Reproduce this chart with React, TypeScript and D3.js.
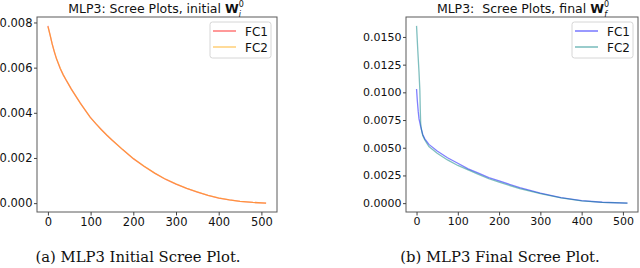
import * as d3 from 'd3';
import React, { useEffect, useRef } from 'react';

// x ticks shared by both panels
const xTicks = [0, 100, 200, 300, 400, 500];

// (a) initial weights: FC1 and FC2 sit on top of each other
const initIdx = [0, 5, 10, 15, 20, 29, 36, 44, 55, 66, 76, 88, 99, 112, 125, 138, 150, 175, 200, 225, 250, 275, 300, 325, 350, 375, 400, 425, 450, 480, 511];
const initFc1 = [0.00785, 0.00745, 0.00705, 0.0067, 0.0064, 0.00595, 0.00568, 0.0054, 0.00505, 0.00472, 0.00443, 0.0041, 0.00381, 0.00352, 0.00326, 0.00301, 0.0028, 0.00237, 0.00197, 0.00163, 0.00133, 0.00106, 0.00084, 0.00065, 0.00049, 0.00034, 0.00022, 0.00014, 0.00008, 0.00003, 0.0];
const initFc2 = [0.00782, 0.00746, 0.00704, 0.00672, 0.0064, 0.00597, 0.00567, 0.00542, 0.00504, 0.00473, 0.00442, 0.00411, 0.0038, 0.00353, 0.00325, 0.00302, 0.0028, 0.00238, 0.00198, 0.00164, 0.00133, 0.00107, 0.00085, 0.00065, 0.0005, 0.00034, 0.00023, 0.00014, 0.00008, 0.00003, 0.0];
const initYTicks = [0, 0.002, 0.004, 0.006, 0.008];

// (b) final weights
const finalIdx1 = [0, 2, 4, 6, 10, 15, 20, 30, 50, 75, 100, 125, 150, 175, 200, 250, 300, 350, 400, 450, 511];
const finalFc1 = [0.0103, 0.0092, 0.0083, 0.0076, 0.0069, 0.0062, 0.0058, 0.0053, 0.0047, 0.0041, 0.0036, 0.0031, 0.0027, 0.0023, 0.002, 0.0014, 0.0009, 0.0005, 0.00022, 0.00008, 0.0];
const finalIdx2 = [0, 3, 6, 8, 9, 10, 12, 15, 20, 30, 50, 75, 100, 125, 150, 175, 200, 250, 300, 350, 400, 450, 511];
const finalFc2 = [0.016, 0.0138, 0.0118, 0.0102, 0.0085, 0.0072, 0.0066, 0.0061, 0.0057, 0.0051, 0.0045, 0.0039, 0.0034, 0.003, 0.0026, 0.0022, 0.0019, 0.0013, 0.00085, 0.00048, 0.0002, 0.00007, 0.0];
const finalYTicks = [0, 0.0025, 0.005, 0.0075, 0.01, 0.0125, 0.015];

interface Series {
    idx: number[];
    vals: number[];
    color: string;
    name: string;
}

interface PanelProps {
    left: number;
    right: number;
    yTicks: number[];
    fmt: string;
    fontSize: number;
    series: Series[];
    legendX: number;
    title: string;
    sub: string;
    titleX: number;
}

const top = 17;
const bottom = 212;

const Panel = ({ left, right, yTicks, fmt, fontSize, series, legendX, title, sub, titleX }: PanelProps) => {
    const ref = useRef<SVGGElement>(null);

    useEffect(() => {
        const g = d3.select(ref.current);
        g.selectAll('*').remove();

        const allY = series.flatMap((s) => s.vals);
        const [ymin, ymax] = d3.extent(allY) as [number, number];
        const ypad = (ymax - ymin) * 0.05;
        const y = d3.scaleLinear().domain([ymin - ypad, ymax + ypad]).range([bottom, top]);
        const xpad = 511 * 0.05;
        const x = d3.scaleLinear().domain([-xpad, 511 + xpad]).range([left, right]);

        // lines, drawn in order so the later one sits on top
        series.forEach((s) => {
            const gen = d3
                .line<number>()
                .x((d) => x(d))
                .y((d, i) => y(s.vals[i]));
            g.append('path')
                .attr('d', gen(s.idx))
                .attr('fill', 'none')
                .attr('stroke', s.color)
                .attr('stroke-opacity', 0.5)
                .attr('stroke-width', 1.3);
        });

        // frame
        g.append('rect')
            .attr('x', left)
            .attr('y', top)
            .attr('width', right - left)
            .attr('height', bottom - top)
            .attr('fill', 'none')
            .attr('stroke', '#5a5a5a')
            .attr('stroke-width', 1);

        const xAxis = d3.axisBottom(x).tickValues(xTicks).tickSize(3.5).tickPadding(2);
        const xg = g.append('g').attr('transform', `translate(0,${bottom})`).call(xAxis);
        const yAxis = d3.axisLeft(y).tickValues(yTicks).tickFormat(d3.format(fmt)).tickSize(3).tickPadding(1.5);
        const yg = g.append('g').attr('transform', `translate(${left},0)`).call(yAxis);
        [xg, yg].forEach((a) => {
            a.select('.domain').remove();
            a.selectAll('line').attr('stroke', '#444');
            a.selectAll('text')
                .attr('fill', '#111')
                .style('font-family', 'DejaVu Sans')
                .style('font-size', `${fontSize}px`);
        });

        // legend
        const lg = g.append('g').attr('transform', `translate(${legendX},22)`);
        lg.append('rect')
            .attr('width', 61)
            .attr('height', 36)
            .attr('rx', 2.5)
            .attr('fill', 'white')
            .attr('stroke', '#d6d6d6');
        series.forEach((s, i) => {
            lg.append('line')
                .attr('x1', 3)
                .attr('x2', 26)
                .attr('y1', 9 + i * 16)
                .attr('y2', 9 + i * 16)
                .attr('stroke', s.color)
                .attr('stroke-opacity', 0.5)
                .attr('stroke-width', 1.6);
            lg.append('text')
                .attr('x', 35)
                .attr('y', 13.5 + i * 16)
                .style('font-family', 'DejaVu Sans')
                .style('font-size', '12px')
                .attr('fill', '#111')
                .text(s.name);
        });

        // title with bold W and stacked sub/superscript
        const t = g
            .append('text')
            .attr('x', titleX)
            .attr('y', 13)
            .attr('text-anchor', 'middle')
            .style('font-family', 'DejaVu Sans')
            .style('font-size', '12.5px')
            .style('white-space', 'pre')
            .attr('fill', '#111');
        t.append('tspan').text(title);
        t.append('tspan').style('font-weight', 'bold').text('W');
        t.append('tspan').attr('dy', -6).style('font-size', '8px').text('0');
        t.append('tspan').attr('dx', -5).attr('dy', 9.5).style('font-size', '8px').style('font-style', 'italic').text(sub);
    }, []);

    return <g ref={ref}></g>;
};

export default function App() {
    return (
        <div style={{ position: 'absolute', left: 0, top: 0 }}>
            <svg width={640} height={268} style={{ display: 'block', background: 'white' }}>
                <Panel
                    left={37}
                    right={277}
                    yTicks={initYTicks}
                    fmt=".3f"
                    fontSize={11.5}
                    series={[
                        { idx: initIdx, vals: initFc1, color: 'red', name: 'FC1' },
                        { idx: initIdx, vals: initFc2, color: 'orange', name: 'FC2' },
                    ]}
                    legendX={210}
                    title="MLP3: Scree Plots, initial "
                    sub="i"
                    titleX={156}
                />
                <Panel
                    left={406}
                    right={638}
                    yTicks={finalYTicks}
                    fmt=".4f"
                    fontSize={11}
                    series={[
                        { idx: finalIdx1, vals: finalFc1, color: 'blue', name: 'FC1' },
                        { idx: finalIdx2, vals: finalFc2, color: 'teal', name: 'FC2' },
                    ]}
                    legendX={572}
                    title="MLP3:  Scree Plots, final "
                    sub="f"
                    titleX={523}
                />
                <text x={138} y={262} textAnchor="middle" fontFamily="DejaVu Serif" fontSize={14.8} fill="#111">
                    (a) MLP3 Initial Scree Plot.
                </text>
                <text x={500} y={262} textAnchor="middle" fontFamily="DejaVu Serif" fontSize={14.8} fill="#111">
                    (b) MLP3 Final Scree Plot.
                </text>
            </svg>
        </div>
    );
}
